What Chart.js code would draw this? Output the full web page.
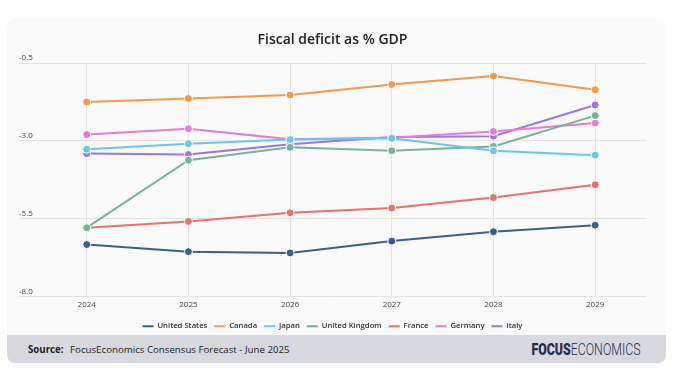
<!DOCTYPE html>
<html>
<head>
<meta charset="utf-8">
<script src="https://cdn.jsdelivr.net/npm/chart.js@4"></script>
<style>
  html, body { margin: 0; padding: 0; background: #fff; width: 675px; height: 382px; overflow: hidden; }
  #card { position: absolute; left: 7px; top: 19px; width: 659px; height: 316px; background: #fafafa; border-radius: 8px 8px 0 0; }
  #footer { position: absolute; left: 7px; top: 335px; width: 659px; height: 28px; background: #d8d9de; border-radius: 0 0 8px 8px;
    font-family: "Open Sans", sans-serif; font-size: 9.7px; color: #222; }
  #source { position: absolute; left: 21px; top: 8px; }
  #source b { font-weight: 700; margin-right: 4px; }
  #logo { position: absolute; right: 26px; top: 5px; font-family: "Roboto", sans-serif;
    font-size: 16px; color: #1f2c4c; transform: scaleX(0.77); transform-origin: right center; white-space: nowrap; }
  #logo b { font-weight: 900; }
  #logo span { font-weight: 300; }
  canvas { position: absolute; left: 0; top: 0; }
</style>
</head>
<body>
<div id="card"></div>
<div id="footer">
  <div id="source"><b>Source:</b> FocusEconomics Consensus Forecast - June 2025</div>
  <div id="logo"><b>FOCUS</b><span>ECONOMICS</span></div>
</div>
<canvas id="chart" width="675" height="340"></canvas>
<script>
const years = [2024, 2025, 2026, 2027, 2028, 2029];
const unitedStates = [-6.33, -6.56, -6.60, -6.22, -5.92, -5.71];
const canada = [-1.75, -1.64, -1.53, -1.19, -0.92, -1.36];
const japan = [-3.27, -3.09, -2.96, -2.92, -3.32, -3.46];
const unitedKingdom = [-5.79, -3.62, -3.21, -3.32, -3.18, -2.19];
const france = [-5.79, -5.59, -5.31, -5.16, -4.82, -4.41];
const germany = [-2.80, -2.61, -2.95, -2.90, -2.70, -2.43];
const italy = [-3.41, -3.44, -3.11, -2.88, -2.85, -1.85];

function series(label, values, color) {
  return {
    label,
    data: values.map((v, i) => ({ x: years[i], y: v })),
    borderColor: color,
    backgroundColor: color,
    borderWidth: 2,
    pointRadius: 4,
    pointBorderColor: "#fff",
    pointBorderWidth: 1,
    pointBackgroundColor: color,
    tension: 0
  };
}

const datasets = [
  series("United States", unitedStates, "#3d5e8c"),
  series("Canada", canada, "#f39a4c"),
  series("Japan", japan, "#6cc5ea"),
  series("United Kingdom", unitedKingdom, "#78b497"),
  series("France", france, "#e9726e"),
  series("Germany", germany, "#e97ad9"),
  series("Italy", italy, "#9b77e0")
];

new Chart(document.getElementById("chart"), {
  type: "line",
  data: { datasets },
  options: {
    responsive: false,
    animation: false,
    layout: { padding: { left: 19, right: 29, top: 0, bottom: 0 } },
    plugins: {
      title: {
        display: true,
        text: "Fiscal deficit as % GDP",
        color: "#222",
        font: { family: "Open Sans", size: 14, weight: "600" },
        padding: { top: 32, bottom: 14.2 }
      },
      legend: {
        position: "bottom",
        labels: {
          usePointStyle: true,
          pointStyleWidth: 11,
          padding: 7,
          color: "#333",
          font: { family: "Open Sans", size: 7.7, weight: "600" },
          generateLabels(chart) {
            return chart.data.datasets.map((d, i) => ({
              text: d.label,
              strokeStyle: d.borderColor,
              fillStyle: d.borderColor,
              lineWidth: 2,
              pointStyle: "line",
              datasetIndex: i,
              fontColor: "#333"
            }));
          }
        }
      },
      tooltip: { enabled: false }
    },
    scales: {
      x: {
        type: "linear",
        min: 2023.334,
        max: 2029.5,
        border: { display: false },
        grid: { color: "#e4e4e4", drawTicks: false },
        afterFit: scale => { scale.height = 18.8; },
        ticks: {
          stepSize: 1,
          includeBounds: false,
          padding: 3.2,
          color: "#444",
          font: { family: "Open Sans", size: 8 },
          callback: v => String(v)
        }
      },
      y: {
        min: -8,
        max: -0.5,
        border: { display: false },
        grid: { color: "#e4e4e4", drawTicks: false },
        ticks: {
          stepSize: 2.5,
          mirror: true,
          padding: 0,
          labelOffset: -5,
          color: "#444",
          font: { family: "Open Sans", size: 8 },
          callback: v => v.toFixed(1)
        }
      }
    }
  }
});
</script>
</body>
</html>
